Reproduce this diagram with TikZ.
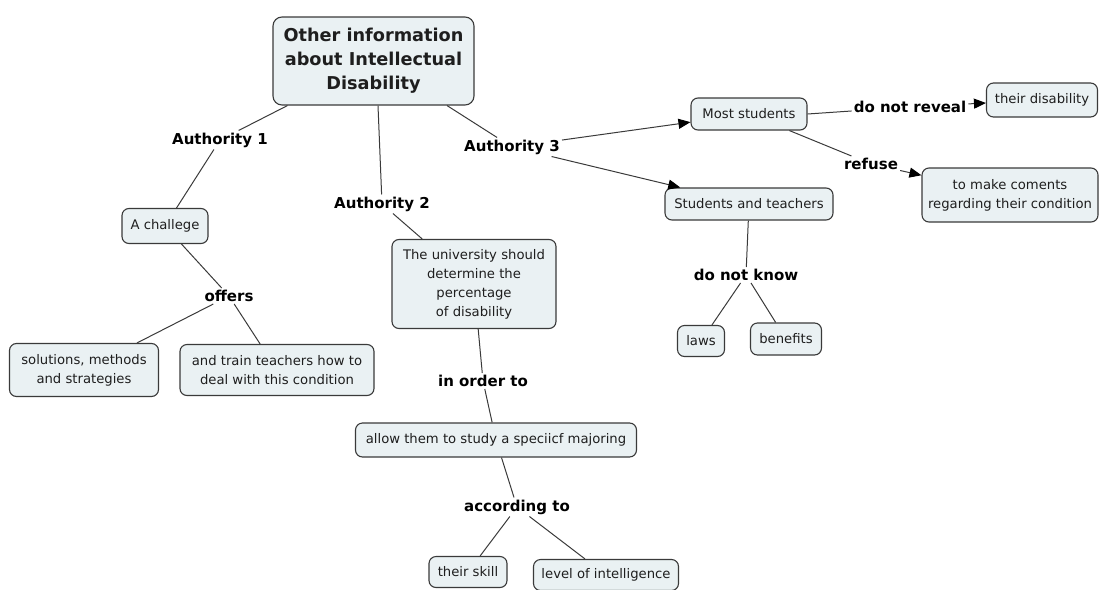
\documentclass[tikz,border=0pt]{standalone}
\usepackage{fontspec}
\setmainfont{DejaVu Sans}
\usetikzlibrary{arrows.meta}
\definecolor{boxfill}{HTML}{EAF1F3}
\definecolor{boxline}{HTML}{3A3A3A}
\definecolor{ink}{HTML}{1E1E1E}
\tikzset{
  concept/.style={draw=boxline, line width=1.1pt, fill=boxfill, rounded corners=7pt,
    align=center, text=ink, font=\fontsize{13.2}{19}\selectfont, inner sep=2pt},
  linkword/.style={font=\bfseries\fontsize{15}{17}\selectfont, text=black, inner sep=2pt},
  conn/.style={draw=boxline, line width=1pt},
  arr/.style={conn, -{Triangle[length=12pt,width=10pt,fill=black,color=black]}}
}
\begin{document}
\begin{tikzpicture}[x=1pt,y=-1pt]
\useasboundingbox (0,0) rectangle (1099,589);

% concepts
\node[concept, minimum width=201pt, minimum height=88pt,
      font=\bfseries\fontsize{17.7}{24}\selectfont, rounded corners=9pt] (main) at (373.5,61)
  {Other information\\about Intellectual\\Disability};
\node[concept, minimum width=86pt, minimum height=35pt] (chal) at (165,226) {A challege};
\node[concept, minimum width=149pt, minimum height=53pt] (sol) at (84,370) {solutions, methods\\and strategies};
\node[concept, minimum width=194pt, minimum height=51pt] (train) at (277,370) {and train teachers how to\\deal with this condition};
\node[concept, minimum width=164pt, minimum height=89pt] (univ) at (474,284)
  {The university should\\determine the\\percentage\\of disability};
\node[concept, minimum width=281pt, minimum height=34pt] (allow) at (496,440) {allow them to study a speciicf majoring};
\node[concept, minimum width=78pt, minimum height=31pt] (skill) at (468,572) {their skill};
\node[concept, minimum width=145pt, minimum height=31pt] (intel) at (606,575) {level of intelligence};
\node[concept, minimum width=116pt, minimum height=32pt] (most) at (749,114) {Most students};
\node[concept, minimum width=111pt, minimum height=34pt] (disab) at (1042,100) {their disability};
\node[concept, minimum width=176pt, minimum height=54pt] (coment) at (1010,195) {to make coments\\regarding their condition};
\node[concept, minimum width=168pt, minimum height=32pt] (stud) at (749,204) {Students and teachers};
\node[concept, minimum width=47pt, minimum height=31pt] (laws) at (701,341) {laws};
\node[concept, minimum width=71pt, minimum height=32pt] (benef) at (786,339) {benefits};

% linking phrases
\node[linkword] (a1) at (220,140) {Authority 1};
\node[linkword] (a2) at (382,204) {Authority 2};
\node[linkword] (a3) at (512,147) {Authority 3};
\node[linkword] (offers) at (229,296) {offers};
\node[linkword] (order) at (483,381) {in order to};
\node[linkword] (accord) at (517,507) {according to};
\node[linkword] (reveal) at (910,107) {do not reveal};
\node[linkword] (refuse) at (871,164) {refuse};
\node[linkword] (know) at (746,275) {do not know};

% connectors
\draw[conn] ([xshift=-86pt]main.south) -- (a1);
\draw[conn] (a1) -- (chal);
\draw[conn] (chal) -- (offers);
\draw[conn] (offers) -- (sol);
\draw[conn] (offers) -- (train);
\draw[conn] ([xshift=4.5pt]main.south) -- (a2);
\draw[conn] (a2) -- (univ);
\draw[conn] (univ) -- (order);
\draw[conn] (order) -- (allow);
\draw[conn] (allow) -- (accord);
\draw[conn] (accord) -- (skill);
\draw[conn] (accord) -- (intel);
\draw[conn] ([xshift=73.5pt]main.south) -- (a3);
\draw[arr] (a3) -- (most);
\draw[arr] (a3) -- (stud);
\draw[conn] (most.east) -- (reveal);
\draw[arr] (reveal) -- (disab);
\draw[conn] (most) -- (refuse);
\draw[arr] (refuse) -- (coment);
\draw[conn] (stud) -- (know);
\draw[conn] (know) -- (laws);
\draw[conn] (know) -- (benef);
\end{tikzpicture}
\end{document}
